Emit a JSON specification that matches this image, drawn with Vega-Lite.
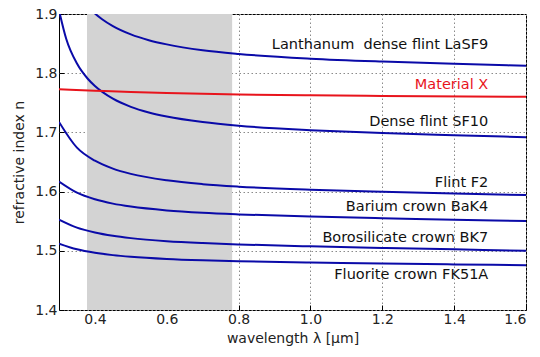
{
  "$schema": "https://vega.github.io/schema/vega-lite/v6.json",
  "autosize": {"type": "none"},
  "width": 467,
  "height": 296,
  "padding": {"left": 59, "top": 14, "right": 14, "bottom": 47},
  "config": {
    "font": "DejaVu Sans",
    "view": {"stroke": "#000000", "strokeWidth": 1},
    "axis": {
      "domain": false,
      "grid": true,
      "gridColor": "#8a8a8a",
      "gridDash": [1.5, 2.5],
      "gridWidth": 1,
      "gridOpacity": 1,
      "tickColor": "#000000",
      "tickSize": -5,
      "labelFont": "DejaVu Sans",
      "labelFontSize": 14,
      "labelColor": "#222222",
      "labelPadding": 7,
      "titleFont": "DejaVu Sans",
      "titleFontSize": 14,
      "titleFontWeight": "normal",
      "titleColor": "#222222",
      "zindex": 1
    }
  },
  "datasets": {
    "curves": [
      {"g": "LaSF9", "l": 0.38, "n": 1.9129},
      {"g": "LaSF9", "l": 0.40, "n": 1.9009},
      {"g": "LaSF9", "l": 0.42, "n": 1.8912},
      {"g": "LaSF9", "l": 0.45, "n": 1.8796},
      {"g": "LaSF9", "l": 0.50, "n": 1.8656},
      {"g": "LaSF9", "l": 0.55, "n": 1.8558},
      {"g": "LaSF9", "l": 0.60, "n": 1.8487},
      {"g": "LaSF9", "l": 0.70, "n": 1.8388},
      {"g": "LaSF9", "l": 0.80, "n": 1.8325},
      {"g": "LaSF9", "l": 1.00, "n": 1.8246},
      {"g": "LaSF9", "l": 1.20, "n": 1.8196},
      {"g": "LaSF9", "l": 1.40, "n": 1.8158},
      {"g": "LaSF9", "l": 1.60, "n": 1.8125},
      {"g": "SF10", "l": 0.30, "n": 1.9062},
      {"g": "SF10", "l": 0.32, "n": 1.8582},
      {"g": "SF10", "l": 0.35, "n": 1.8163},
      {"g": "SF10", "l": 0.38, "n": 1.7906},
      {"g": "SF10", "l": 0.40, "n": 1.7783},
      {"g": "SF10", "l": 0.45, "n": 1.7569},
      {"g": "SF10", "l": 0.50, "n": 1.7432},
      {"g": "SF10", "l": 0.55, "n": 1.7337},
      {"g": "SF10", "l": 0.60, "n": 1.7267},
      {"g": "SF10", "l": 0.70, "n": 1.7174},
      {"g": "SF10", "l": 0.80, "n": 1.7113},
      {"g": "SF10", "l": 0.90, "n": 1.7070},
      {"g": "SF10", "l": 1.00, "n": 1.7038},
      {"g": "SF10", "l": 1.20, "n": 1.6990},
      {"g": "SF10", "l": 1.40, "n": 1.6953},
      {"g": "SF10", "l": 1.60, "n": 1.6919},
      {"g": "F2", "l": 0.30, "n": 1.7177},
      {"g": "F2", "l": 0.35, "n": 1.6742},
      {"g": "F2", "l": 0.40, "n": 1.6522},
      {"g": "F2", "l": 0.45, "n": 1.6388},
      {"g": "F2", "l": 0.50, "n": 1.6299},
      {"g": "F2", "l": 0.60, "n": 1.6190},
      {"g": "F2", "l": 0.70, "n": 1.6126},
      {"g": "F2", "l": 0.80, "n": 1.6084},
      {"g": "F2", "l": 1.00, "n": 1.6031},
      {"g": "F2", "l": 1.20, "n": 1.5996},
      {"g": "F2", "l": 1.40, "n": 1.5968},
      {"g": "F2", "l": 1.60, "n": 1.5942},
      {"g": "BaK4", "l": 0.30, "n": 1.6169},
      {"g": "BaK4", "l": 0.35, "n": 1.5981},
      {"g": "BaK4", "l": 0.40, "n": 1.5870},
      {"g": "BaK4", "l": 0.45, "n": 1.5797},
      {"g": "BaK4", "l": 0.50, "n": 1.5747},
      {"g": "BaK4", "l": 0.60, "n": 1.5682},
      {"g": "BaK4", "l": 0.70, "n": 1.5642},
      {"g": "BaK4", "l": 0.80, "n": 1.5615},
      {"g": "BaK4", "l": 1.00, "n": 1.5578},
      {"g": "BaK4", "l": 1.20, "n": 1.5550},
      {"g": "BaK4", "l": 1.40, "n": 1.5526},
      {"g": "BaK4", "l": 1.60, "n": 1.5503},
      {"g": "BK7", "l": 0.30, "n": 1.5528},
      {"g": "BK7", "l": 0.35, "n": 1.5392},
      {"g": "BK7", "l": 0.40, "n": 1.5309},
      {"g": "BK7", "l": 0.45, "n": 1.5253},
      {"g": "BK7", "l": 0.50, "n": 1.5214},
      {"g": "BK7", "l": 0.60, "n": 1.5163},
      {"g": "BK7", "l": 0.70, "n": 1.5131},
      {"g": "BK7", "l": 0.80, "n": 1.5108},
      {"g": "BK7", "l": 1.00, "n": 1.5075},
      {"g": "BK7", "l": 1.20, "n": 1.5049},
      {"g": "BK7", "l": 1.40, "n": 1.5025},
      {"g": "BK7", "l": 1.60, "n": 1.5000},
      {"g": "FK51A", "l": 0.30, "n": 1.5120},
      {"g": "FK51A", "l": 0.35, "n": 1.5025},
      {"g": "FK51A", "l": 0.40, "n": 1.4966},
      {"g": "FK51A", "l": 0.45, "n": 1.4927},
      {"g": "FK51A", "l": 0.50, "n": 1.4899},
      {"g": "FK51A", "l": 0.60, "n": 1.4862},
      {"g": "FK51A", "l": 0.70, "n": 1.4839},
      {"g": "FK51A", "l": 0.80, "n": 1.4823},
      {"g": "FK51A", "l": 1.00, "n": 1.4801},
      {"g": "FK51A", "l": 1.20, "n": 1.4785},
      {"g": "FK51A", "l": 1.40, "n": 1.4770},
      {"g": "FK51A", "l": 1.60, "n": 1.4756},
      {"g": "Material X", "l": 0.30, "n": 1.7730},
      {"g": "Material X", "l": 0.40, "n": 1.7705},
      {"g": "Material X", "l": 0.50, "n": 1.7682},
      {"g": "Material X", "l": 0.60, "n": 1.7665},
      {"g": "Material X", "l": 0.80, "n": 1.7641},
      {"g": "Material X", "l": 1.00, "n": 1.7626},
      {"g": "Material X", "l": 1.20, "n": 1.7615},
      {"g": "Material X", "l": 1.60, "n": 1.7602}
    ],
    "labels": [
      {"g": "LaSF9", "t": "Lanthanum\u00a0 dense flint LaSF9", "l": 1.495, "n": 1.8476},
      {"g": "Material X", "t": "Material X", "l": 1.495, "n": 1.780},
      {"g": "SF10", "t": "Dense flint SF10", "l": 1.495, "n": 1.7176},
      {"g": "F2", "t": "Flint F2", "l": 1.495, "n": 1.615},
      {"g": "BaK4", "t": "Barium crown BaK4", "l": 1.495, "n": 1.574},
      {"g": "BK7", "t": "Borosilicate crown BK7", "l": 1.495, "n": 1.5216},
      {"g": "FK51A", "t": "Fluorite crown FK51A", "l": 1.495, "n": 1.4586}
    ],
    "band": [{"a": 0.378, "b": 0.782}]
  },
  "layer": [
    {
      "data": {"name": "band"},
      "mark": {"type": "rect", "color": "#d3d3d3"},
      "encoding": {
        "x": {"field": "a", "type": "quantitative", "scale": {"domain": [0.3, 1.6], "nice": false, "zero": false}},
        "x2": {"field": "b"}
      }
    },
    {
      "data": {"name": "curves"},
      "mark": {"type": "line", "interpolate": "monotone", "clip": true, "strokeWidth": 2},
      "encoding": {
        "x": {
          "field": "l", "type": "quantitative",
          "scale": {"domain": [0.3, 1.6], "nice": false, "zero": false},
          "axis": {"values": [0.4, 0.6, 0.8, 1.0, 1.2, 1.4, 1.6], "format": ".1f", "title": "wavelength λ [μm]", "titlePadding": 5}
        },
        "y": {
          "field": "n", "type": "quantitative",
          "scale": {"domain": [1.4, 1.9], "nice": false, "zero": false},
          "axis": {"values": [1.4, 1.5, 1.6, 1.7, 1.8, 1.9], "format": ".1f", "title": "refractive index n", "titlePadding": 8}
        },
        "detail": {"field": "g"},
        "color": {
          "field": "g", "type": "nominal", "legend": null,
          "scale": {"domain": ["LaSF9", "SF10", "F2", "BaK4", "BK7", "FK51A", "Material X"],
                    "range": ["#0a0aa8", "#0a0aa8", "#0a0aa8", "#0a0aa8", "#0a0aa8", "#0a0aa8", "#e8141c"]}
        }
      }
    },
    {
      "data": {"name": "labels"},
      "mark": {"type": "text", "align": "right", "baseline": "middle", "fontSize": 14.5, "font": "DejaVu Sans"},
      "encoding": {
        "x": {"field": "l", "type": "quantitative"},
        "y": {"field": "n", "type": "quantitative"},
        "text": {"field": "t"},
        "color": {
          "field": "g", "type": "nominal", "legend": null,
          "scale": {"domain": ["LaSF9", "SF10", "F2", "BaK4", "BK7", "FK51A", "Material X"],
                    "range": ["#111111", "#111111", "#111111", "#111111", "#111111", "#111111", "#e8141c"]}
        }
      }
    }
  ],
  "resolve": {"scale": {"color": "independent"}}
}
